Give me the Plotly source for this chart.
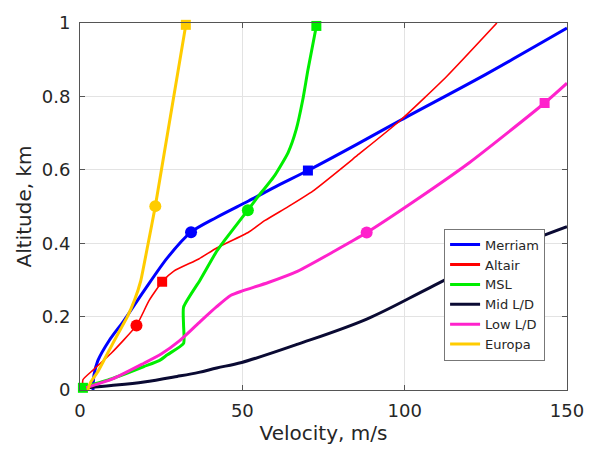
import plotly.graph_objects as go

# ---- data (velocity m/s, altitude km) ----
merriam_v = [4.0, 4.3, 5.5, 9.0, 13.6, 19.7, 26.9, 34.2, 42.0, 51.9, 60.0, 70.2, 85.4, 98.7, 125.0, 150.0]
merriam_h = [0.0, 0.04, 0.08, 0.135, 0.19, 0.27, 0.36, 0.43, 0.47, 0.515, 0.553, 0.598, 0.67, 0.735, 0.86, 0.986]

altair_v = [0.9, 0.9, 4.1, 9.6, 17.4, 21.3, 25.3, 28.9, 36.6, 42.1, 51.9, 57.0, 64.0, 71.7, 85.4, 98.7, 113.0, 128.4]
altair_h = [0.0, 0.028, 0.055, 0.1, 0.176, 0.244, 0.295, 0.324, 0.357, 0.387, 0.43, 0.462, 0.499, 0.542, 0.639, 0.735, 0.855, 1.0]

msl_v = [0.9, 5.0, 9.6, 14.2, 19.7, 24.4, 26.9, 31.9, 31.9, 31.9, 37.0, 42.1, 44.7, 51.7, 54.4, 60.0, 64.1, 66.6, 68.6, 70.2, 72.8]
msl_h = [0.006, 0.018, 0.03, 0.045, 0.064, 0.08, 0.096, 0.127, 0.176, 0.226, 0.30, 0.378, 0.41, 0.49, 0.522, 0.585, 0.647, 0.71, 0.79, 0.872, 0.992]

midld_v = [2.4, 9.6, 19.7, 29.9, 36.6, 42.1, 49.8, 67.1, 88.5, 107.8, 128.2, 150.0]
midld_h = [0.006, 0.012, 0.022, 0.037, 0.048, 0.06, 0.075, 0.125, 0.194, 0.279, 0.369, 0.445]

lowld_v = [1.9, 10.0, 19.7, 25.0, 30.5, 36.6, 42.1, 46.5, 50.0, 58.0, 67.1, 78.3, 88.3, 102.7, 120.0, 143.1, 150.0]
lowld_h = [0.006, 0.03, 0.073, 0.098, 0.133, 0.183, 0.227, 0.258, 0.27, 0.293, 0.324, 0.378, 0.429, 0.513, 0.62, 0.782, 0.836]

europa_v = [2.4, 3.2, 5.5, 8.5, 11.5, 14.6, 16.8, 18.7, 21.0, 23.2, 32.6]
europa_h = [0.0, 0.02, 0.05, 0.1, 0.15, 0.2, 0.245, 0.297, 0.40, 0.501, 0.995]

# marker points: (circle), (square)
merriam_circ = ([34.2], [0.43]);  merriam_sq = ([70.2], [0.598])
altair_circ = ([17.4], [0.176]);  altair_sq = ([25.3], [0.295])
msl_circ = ([51.7], [0.49]);      msl_sq = ([0.9, 72.8], [0.006, 0.992])
lowld_circ = ([88.3], [0.429]);   lowld_sq = ([143.1], [0.782])
europa_circ = ([23.2], [0.501]);  europa_sq = ([32.6], [0.995])

names = ["Merriam", "Altair", "MSL", "Mid L/D", "Low L/D", "Europa"]
colors = ["#0000ff", "#ff0000", "#00ee00", "#0a0a33", "#ff22cc", "#ffcc00"]
x_ticks = [0, 50, 100, 150]
y_ticks = [0, 0.2, 0.4, 0.6, 0.8, 1]

series = [
    (merriam_v, merriam_h, merriam_circ, merriam_sq, "spline", 0.8),
    (altair_v, altair_h, altair_circ, altair_sq, "spline", 0.5),
    (msl_v, msl_h, msl_circ, msl_sq, "spline", 0.5),
    (midld_v, midld_h, None, None, "spline", 1.0),
    (lowld_v, lowld_h, lowld_circ, lowld_sq, "spline", 0.6),
    (europa_v, europa_h, europa_circ, europa_sq, "spline", 0.4),
]

fig = go.Figure()
for (v, h, circ, sq, shape, smooth), name, col in zip(series, names, colors):
    w = 1.6 if name == "Altair" else 3
    fig.add_trace(go.Scatter(x=v, y=h, mode="lines", name=name,
                             line=dict(color=col, width=w, shape=shape, smoothing=smooth),
                             showlegend=(name != "Altair")))
    if name == "Altair":
        fig.add_trace(go.Scatter(x=[None], y=[None], mode="lines", name=name,
                                 line=dict(color=col, width=3)))
    if circ is not None:
        fig.add_trace(go.Scatter(x=circ[0], y=circ[1], mode="markers", showlegend=False,
                                 marker=dict(symbol="circle", size=12, color=col),
                                 cliponaxis=False))
    if sq is not None:
        fig.add_trace(go.Scatter(x=sq[0], y=sq[1], mode="markers", showlegend=False,
                                 marker=dict(symbol="square", size=10, color=col),
                                 cliponaxis=False))

rank = {n: i for i, n in enumerate(names)}
for tr in fig.data:
    if tr.name in rank:
        tr.legendrank = rank[tr.name] + 1

axis_common = dict(showline=True, linecolor="#555555", linewidth=1, mirror="ticks",
                   ticks="inside", ticklen=5, tickcolor="#555555",
                   showgrid=True, gridcolor="#e3e3e3", gridwidth=1,
                   zeroline=False, tickfont=dict(size=18, color="#262626"))

fig.update_layout(
    width=596, height=453,
    margin=dict(l=80, r=24, t=19, b=62),
    paper_bgcolor="white", plot_bgcolor="white",
    font=dict(family="DejaVu Sans", color="#262626"),
    xaxis=dict(range=[0, 150], tickvals=x_ticks, ticktext=[str(t) for t in x_ticks],
               title=dict(text="Velocity, m/s", font=dict(size=20), standoff=6),
               ticklabelstandoff=4, **axis_common),
    yaxis=dict(range=[0, 1], tickvals=y_ticks, ticktext=["0", "0.2", "0.4", "0.6", "0.8", "1"],
               title=dict(text="Altitude, km", font=dict(size=20), standoff=4),
               ticklabelstandoff=5, **axis_common),
    legend=dict(x=0.955, y=0.08, xanchor="right", yanchor="bottom",
                bgcolor="white", bordercolor="#777777", borderwidth=1,
                font=dict(size=13, color="#262626"), tracegroupgap=0,
                itemwidth=30),
    showlegend=True,
)

fig.write_html("out.html")
